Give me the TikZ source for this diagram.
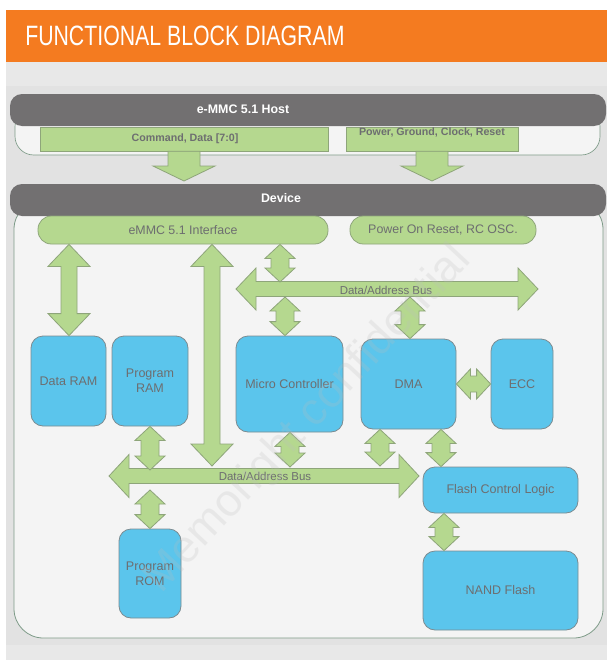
\documentclass[tikz,border=0pt]{standalone}
\usepackage{fontspec}
\setmainfont{Liberation Sans}
\newfontfamily\titlefont[FakeStretch=0.76]{Liberation Sans}
\usetikzlibrary{calc}
\definecolor{orng}{HTML}{F47B20}
\definecolor{bgA}{HTML}{E8E8E8}
\definecolor{bgB}{HTML}{E2E2E2}
\definecolor{darkbar}{HTML}{727071}
\definecolor{panelfill}{HTML}{F4F4F4}
\definecolor{panelline}{HTML}{7E9B88}
\definecolor{grnfill}{HTML}{B5D88F}
\definecolor{grnline}{HTML}{8EA57A}
\definecolor{blufill}{HTML}{5BC5EC}
\definecolor{bluline}{HTML}{7C8B91}
\definecolor{txtgray}{HTML}{6D6E70}
\definecolor{wmark}{HTML}{BDBDBD}
\tikzset{
  darkbar/.style={fill=darkbar, rounded corners=9pt, inner sep=0pt},
  barlabel/.style={text=white, font=\fontsize{9.3}{11}\selectfont\bfseries, inner sep=0pt},
  hostbox/.style={fill=grnfill, draw=grnline, line width=0.5pt, inner sep=0pt},
  hostlabel/.style={text=txtgray, font=\fontsize{8}{10}\selectfont\bfseries, inner sep=0pt},
  pill/.style={fill=grnfill, draw=grnline, line width=0.6pt, rounded corners=10pt, text=txtgray, font=\fontsize{9.3}{11}\selectfont, inner sep=0pt},
  blk/.style={fill=blufill, draw=bluline, line width=0.6pt, rounded corners=9pt, text=txtgray, font=\fontsize{9.4}{11.25}\selectfont, align=center, inner sep=0pt},
  barrow/.style={fill=grnfill, draw=grnline, line width=0.6pt, line join=miter},
  buslabel/.style={text=txtgray, font=\fontsize{8.6}{10}\selectfont, inner sep=0pt}
}
% box node: name, x1, y1, x2, y2, style, text
\newcommand\bx[7]{\node[#6, minimum width={(#4-#2)*0.75pt}, minimum height={(#5-#3)*0.75pt}] (#1) at ({(#2+#4)/2},{(#3+#5)/2}) {#7};}
% vertical double arrow: top, bottom, head half width, shaft half width, head length (px)
\newcommand\vda[5]{\draw[barrow] let \p1=(#1), \p2=(#2) in
 (\x1,\y1) -- (\x1+#3*0.75pt,\y1-#5*0.75pt) -- (\x1+#4*0.75pt,\y1-#5*0.75pt) -- (\x1+#4*0.75pt,\y2+#5*0.75pt) -- (\x1+#3*0.75pt,\y2+#5*0.75pt) -- (\x1,\y2) -- (\x1-#3*0.75pt,\y2+#5*0.75pt) -- (\x1-#4*0.75pt,\y2+#5*0.75pt) -- (\x1-#4*0.75pt,\y1-#5*0.75pt) -- (\x1-#3*0.75pt,\y1-#5*0.75pt) -- cycle;}
% horizontal double arrow: left, right, head half height, shaft half height, head length
\newcommand\hda[5]{\draw[barrow] let \p1=(#1), \p2=(#2) in
 (\x1,\y1) -- (\x1+#5*0.75pt,\y1+#3*0.75pt) -- (\x1+#5*0.75pt,\y1+#4*0.75pt) -- (\x2-#5*0.75pt,\y1+#4*0.75pt) -- (\x2-#5*0.75pt,\y1+#3*0.75pt) -- (\x2,\y1) -- (\x2-#5*0.75pt,\y1-#3*0.75pt) -- (\x2-#5*0.75pt,\y1-#4*0.75pt) -- (\x1+#5*0.75pt,\y1-#4*0.75pt) -- (\x1+#5*0.75pt,\y1-#3*0.75pt) -- cycle;}
% single down arrow: top, tip, head half width, shaft half width, head length
\newcommand\dna[5]{\draw[barrow] let \p1=(#1), \p2=(#2) in
 (\x1-#4*0.75pt,\y1) -- (\x1+#4*0.75pt,\y1) -- (\x1+#4*0.75pt,\y2+#5*0.75pt) -- (\x1+#3*0.75pt,\y2+#5*0.75pt) -- (\x1,\y2) -- (\x1-#3*0.75pt,\y2+#5*0.75pt) -- (\x1-#4*0.75pt,\y2+#5*0.75pt) -- cycle;}
\begin{document}
\begin{tikzpicture}[x=0.75pt,y=-0.75pt]
\useasboundingbox (0,0) rectangle (607,660);
\fill[white] (0,0) rectangle (607,660);
\fill[bgA] (6,62) rectangle (607,660);
\fill[bgB] (6,86) rectangle (607,645);
% title
\fill[orng] (6,10) rectangle (607,62);
\node[anchor=west, text=white, font=\titlefont\fontsize{21}{24}\selectfont, inner sep=0pt] (title) at (25,36) {FUNCTIONAL BLOCK DIAGRAM};
% host
\draw[fill=panelfill, draw=panelline, line width=0.5pt, rounded corners=14pt] (15,108) rectangle (600,155);
\bx{host}{10}{94}{606}{126}{darkbar}{}
\node[barlabel] (hostt) at (243,109) {e-MMC 5.1 Host};
\bx{cmd}{40}{127}{328}{151}{hostbox}{}
\node[hostlabel] (cmdt) at (185,139) {Command, Data [7:0]};
\bx{pwr}{346}{127}{518}{151}{hostbox}{}
\node[hostlabel] (pwrt) at (432,132) {Power, Ground, Clock, Reset};
% device
\draw[fill=panelfill, draw=panelline, line width=0.6pt, rounded corners=22pt] (14,200) rectangle (603,638);
\bx{dev}{10}{184}{606}{216}{darkbar}{}
\node[barlabel] (devt) at (281,198) {Device};
\coordinate (cmdtip) at (184,181);
\coordinate (pwrtip) at (432,181);
\dna{184,0 |- cmd.south}{cmdtip}{31}{16}{15}
\dna{432,0 |- pwr.south}{pwrtip}{31}{16}{15}
% interface pills
\bx{iface}{38}{216}{328}{244}{pill}{eMMC 5.1 Interface}
\bx{por}{350}{216}{536}{244}{pill}{Power On Reset, RC OSC.}
% blocks
\bx{dram}{31}{336}{106}{426}{blk}{Data RAM}
\bx{pram}{112}{336}{188}{426}{blk}{Program\\RAM}
\bx{mc}{236}{336}{343}{432}{blk}{Micro Controller}
\bx{dma}{361}{339}{456}{429}{blk}{DMA}
\bx{ecc}{491}{339}{553}{429}{blk}{ECC}
\bx{fcl}{423}{467}{578}{513}{blk}{Flash Control Logic}
\bx{prom}{119}{529}{181}{618}{blk}{Program\\ROM}
\bx{nand}{423}{551}{578}{630}{blk}{NAND Flash}
% buses
\coordinate (busAl) at (236,289);
\coordinate (busAr) at (538,289);
\coordinate (busAtop) at (0,282);
\coordinate (busAbot) at (0,297);
\hda{busAl}{busAr}{21}{7.5}{20}
\node[buslabel] (busAlab) at (386,290) {Data/Address Bus};
\coordinate (busBl) at (109,476);
\coordinate (busBr) at (419,476);
\coordinate (busBtop) at (0,467);
\coordinate (busBbot) at (0,488);
\hda{busBl}{busBr}{21.5}{7.5}{20}
\node[buslabel] (busBlab) at (265,476) {Data/Address Bus};
% big arrows
\vda{69,0 |- iface.south}{dram.north}{21}{8}{22}
\vda{212,0 |- iface.south}{212,466}{21}{8}{22}
% small arrows
\vda{280,0 |- iface.south}{280,0 |- busAtop}{15}{9}{14}
\vda{285,0 |- busAbot}{285,0 |- mc.north}{15}{9}{14}
\vda{410,0 |- busAbot}{410,0 |- dma.north}{15}{9}{14}
\vda{150,0 |- pram.south}{150,470}{15}{9}{14}
\vda{290,0 |- mc.south}{290,467}{15}{9}{14}
\vda{380,0 |- dma.south}{380,466}{15}{9}{14}
\vda{441,0 |- dma.south}{441,0 |- fcl.north}{15}{9}{14}
\vda{150,490}{150,0 |- prom.north}{15}{9}{14}
\vda{444,0 |- fcl.south}{444,0 |- nand.north}{15}{9}{14}
\hda{dma.east}{ecc.west}{15}{8}{14}
% watermark
\node[rotate=47, text=wmark, opacity=0.22, font=\fontsize{34}{36}\selectfont] (wm) at (308,420) {Memoright confidential};
\end{tikzpicture}
\end{document}
